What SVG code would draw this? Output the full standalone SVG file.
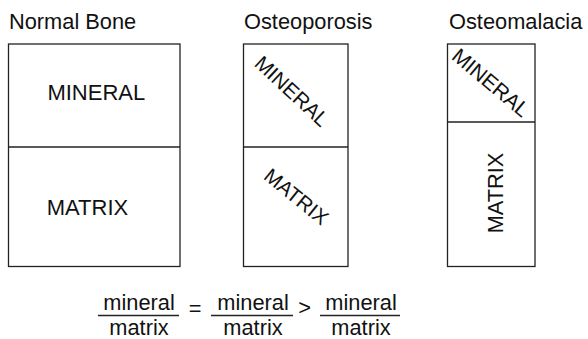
<svg xmlns="http://www.w3.org/2000/svg" width="588" height="339" viewBox="0 0 588 339">
<style>
text{font-family:"Liberation Sans",Arial,sans-serif;fill:#111}
.t{font-size:21.8px}
.l{font-size:22px}
.m{text-anchor:middle}
.b{fill:#fff;stroke:#222;stroke-width:1.3}
.ln{stroke:#222;stroke-width:1.3;fill:none}
</style>
<rect width="588" height="339" fill="#fff"/>
<g id="normal">
<text class="t" x="9" y="29">Normal Bone</text>
<rect class="b" x="8.5" y="44" width="171.5" height="222.5"/>
<line class="ln" x1="8.5" y1="147" x2="180" y2="147"/>
<text class="l m" x="96.3" y="100">MINERAL</text>
<text class="l m" x="87.5" y="215">MATRIX</text>
</g>
<g id="osteoporosis">
<text class="t" x="244" y="29">Osteoporosis</text>
<rect class="b" x="243.5" y="44" width="104.5" height="222.5"/>
<line class="ln" x1="243.5" y1="147" x2="348" y2="147"/>
<text class="m" font-size="20.8" transform="translate(292 91) rotate(43)" y="7.4">MINERAL</text>
<text class="m" font-size="20.5" transform="translate(296.5 196.5) rotate(39)" y="7.3">MATRIX</text>
</g>
<g id="osteomalacia">
<text class="t" x="449" y="29">Osteomalacia</text>
<rect class="b" x="447.5" y="44" width="87.5" height="222.5"/>
<line class="ln" x1="447.5" y1="122" x2="535" y2="122"/>
<text class="m" font-size="21" transform="translate(491 82.5) rotate(40)" y="7.5">MINERAL</text>
<text class="t m" transform="translate(495 193) rotate(-90)" y="7.8">MATRIX</text>
</g>
<g id="formula">
<text class="t m" x="139" y="310">mineral</text>
<line class="ln" x1="98" y1="315.5" x2="179" y2="315.5"/>
<text class="t m" x="139" y="334.5">matrix</text>
<text class="t m" x="195" y="316">=</text>
<text class="t m" x="253" y="310">mineral</text>
<line class="ln" x1="211" y1="315.5" x2="293" y2="315.5"/>
<text class="t m" x="253" y="334.5">matrix</text>
<text class="t m" x="304.5" y="315">&gt;</text>
<text class="t m" x="361" y="310">mineral</text>
<line class="ln" x1="320" y1="315.5" x2="400" y2="315.5"/>
<text class="t m" x="361" y="334.5">matrix</text>
</g>
</svg>
